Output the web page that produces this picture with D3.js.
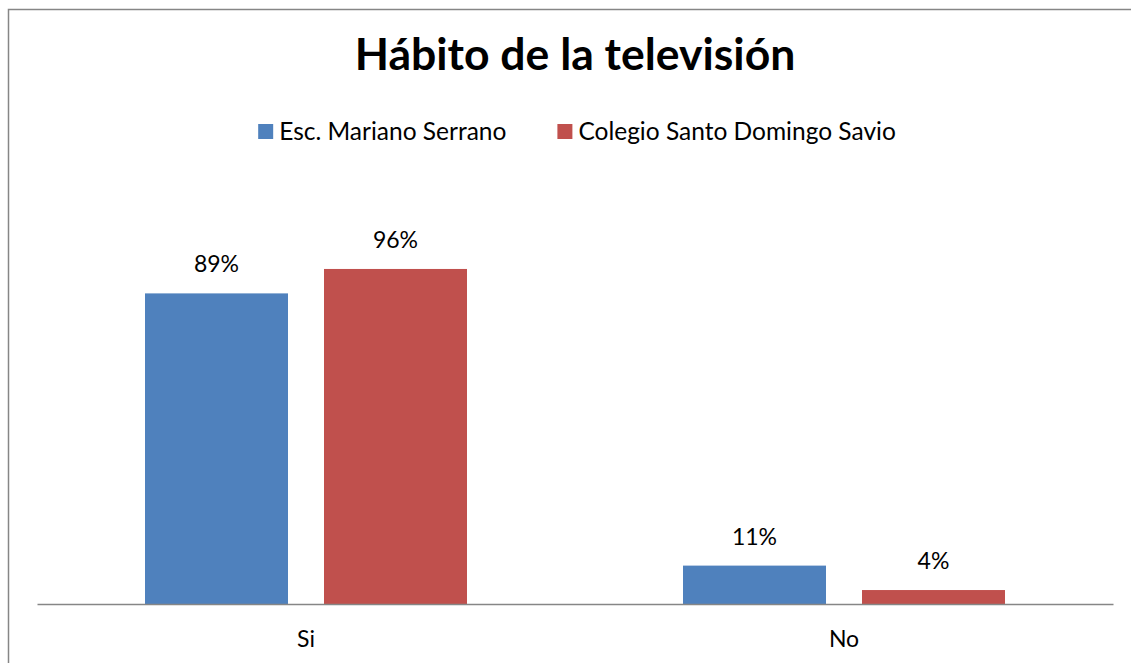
<!DOCTYPE html>
<html>
<head>
<meta charset="utf-8">
<script src="https://cdn.jsdelivr.net/npm/d3@7"></script>
<style>
  html, body { margin: 0; padding: 0; background: #fff; }
  svg { display: block; }
  text { font-family: Lato, "Open Sans", sans-serif; fill: #000; }
</style>
</head>
<body>
<svg id="chart" width="1131" height="663"></svg>
<script>
// Chart data
const categories = ["Si", "No"];
const seriesNames = ["Esc. Mariano Serrano", "Colegio Santo Domingo Savio"];
const marianoSerrano = [0.89, 0.11];
const santoDomingoSavio = [0.96, 0.04];
const seriesColors = ["#4F81BD", "#C0504D"];
const titleText = "Hábito de la televisión";

const seriesValues = [marianoSerrano, santoDomingoSavio];

const svg = d3.select("#chart");

// Outer chart frame
svg.append("rect")
  .attr("x", 8.5).attr("y", 9.5)
  .attr("width", 1140).attr("height", 680)
  .attr("fill", "#fff")
  .attr("stroke", "#868686")
  .attr("stroke-width", 1.5);

// Plot geometry
const plot = { left: 37, right: 1113, bottom: 604 };

const x0 = d3.scaleBand()
  .domain(categories)
  .range([plot.left, plot.right])
  .paddingInner(0)
  .paddingOuter(0);

const x1 = d3.scaleBand()
  .domain(d3.range(seriesNames.length))
  .range([0, x0.bandwidth()])
  .paddingInner(36 / 179)
  .paddingOuter(108 / 179);

const y = d3.scaleLinear()
  .domain([0, 1.2])
  .range([plot.bottom, plot.bottom - 1.2 * 349]);

const fmt = d3.format(".0%");

// Bars + value labels
categories.forEach((cat, ci) => {
  const g = svg.append("g").attr("transform", `translate(${x0(cat)},0)`);
  seriesValues.forEach((vals, si) => {
    const v = vals[ci];
    g.append("rect")
      .attr("x", x1(si))
      .attr("y", y(v))
      .attr("width", x1.bandwidth())
      .attr("height", y(0) - y(v))
      .attr("fill", seriesColors[si]);
    g.append("text")
      .attr("x", x1(si) + x1.bandwidth() / 2)
      .attr("y", y(v) - 21)
      .attr("text-anchor", "middle")
      .attr("font-size", 23)
      .text(fmt(v));
  });
});

// Category axis
const xAxis = svg.append("g")
  .attr("transform", `translate(0,${plot.bottom})`)
  .call(d3.axisBottom(x0).tickSize(0).tickPadding(0));
xAxis.select(".domain")
  .attr("stroke", "#868686")
  .attr("stroke-width", 1.5);
xAxis.selectAll(".tick text")
  .attr("font-family", "Lato, 'Open Sans', sans-serif")
  .attr("font-size", 23)
  .attr("fill", "#000")
  .attr("dy", null)
  .attr("y", 43);

// Title
svg.append("text")
  .attr("x", 575)
  .attr("y", 70)
  .attr("text-anchor", "middle")
  .attr("font-size", 44.5)
  .attr("font-weight", "bold")
  .text(titleText);

// Legend, centered under the title
const legend = svg.append("g");
let cursor = 0;
seriesNames.forEach((name, i) => {
  const item = legend.append("g").attr("transform", `translate(${cursor},0)`);
  item.append("rect")
    .attr("x", 0).attr("y", 124)
    .attr("width", 15).attr("height", 15)
    .attr("fill", seriesColors[i]);
  const t = item.append("text")
    .attr("x", 21).attr("y", 140)
    .attr("font-size", 24.5)
    .text(name);
  const w = t.node().getComputedTextLength();
  cursor += 21 + w + (i < seriesNames.length - 1 ? 51 : 0);
});
legend.attr("transform", `translate(${577 - cursor / 2},0)`);
</script>
</body>
</html>
